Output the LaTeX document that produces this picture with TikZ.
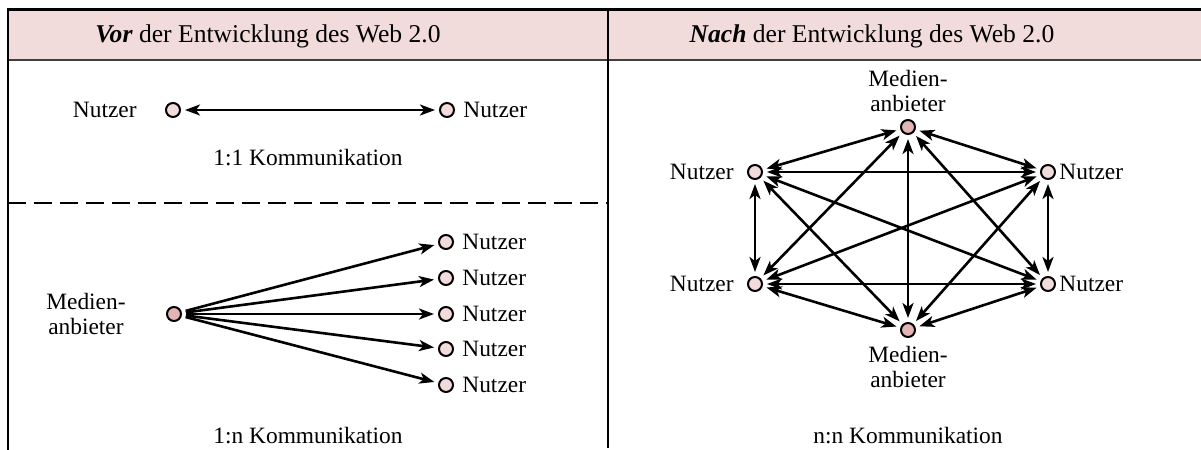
\documentclass[tikz,border=0pt]{standalone}
\usepackage{fontspec}
\setmainfont{Liberation Serif}
\usetikzlibrary{arrows.meta,positioning}

\definecolor{kopfrosa}{HTML}{F2DCDB}
\definecolor{nutzerrosa}{HTML}{F2DCDB}
\definecolor{medienrosa}{HTML}{E3B4B3}

\tikzset{
  nutzer/.style={circle,draw,line width=1pt,fill=nutzerrosa,minimum size=7pt,inner sep=0pt,outer sep=2.5pt},
  medien/.style={nutzer,fill=medienrosa},
  beschr/.style={inner sep=1pt,align=center,font=\fontsize{11.7}{12.5}\selectfont},
  kopf/.style={inner sep=1pt,font=\fontsize{12.8}{14}\selectfont},
  pfeil/.style={line width=1.3pt,{Stealth[length=7.5pt,width=5.5pt,inset=2pt]}-{Stealth[length=7.5pt,width=5.5pt,inset=2pt]}},
  strahl/.style={line width=1.3pt,-{Stealth[length=7.5pt,width=5.5pt,inset=2pt]}}
}

\begin{document}
\begin{tikzpicture}[x=0.5pt,y=-0.5pt]
  \useasboundingbox (0,0) rectangle (1201,450);

  % Tabellenkopf
  \fill[kopfrosa] (8,9) rectangle (1201,60);
  \draw[line width=0.9pt,black!75] (8,60) -- (1201,60);
  \draw[line width=1.5pt] (7,9) -- (1201,9);
  \draw[line width=1pt] (8,9) -- (8,450);
  \draw[line width=1pt] (608,9) -- (608,448);
  \draw[line width=0.9pt,dash pattern=on 9pt off 4pt] (8,203) -- (608,203);
  \node[kopf] (kv) at (268,36) {\textbf{\textit{Vor}} der Entwicklung des Web 2.0};
  \node[kopf] (kn) at (872,36) {\textbf{\textit{Nach}} der Entwicklung des Web 2.0};

  % 1:1
  \node[nutzer] (a1) at (173,110) {};
  \node[nutzer] (a2) at (447,110) {};
  \node[beschr,left=11pt of a1] (la1) {Nutzer};
  \node[beschr,right=1pt of a2] (la2) {Nutzer};
  \draw[pfeil] (a1) -- (a2);
  \node[beschr] (k11) at (308,158) {1:1 Kommunikation};

  % 1:n
  \node[medien] (q) at (174,314) {};
  \node[beschr,left=17pt of q] (lq) {Medien-\\anbieter};
  \foreach \i/\y in {1/242,2/278,3/314,4/349,5/385} {
    \node[nutzer] (z\i) at (446,\y) {};
    \node[beschr,right=1pt of z\i] (lz\i) {Nutzer};
    \draw[strahl] (q) -- (z\i);
  }
  \node[beschr] (k1n) at (308,436) {1:n Kommunikation};

  % n:n
  \node[medien] (mo) at (908,127) {};
  \node[medien] (mu) at (908,330) {};
  \node[nutzer] (nlo) at (755,172) {};
  \node[nutzer] (nro) at (1048,172) {};
  \node[nutzer] (nlu) at (755,284) {};
  \node[nutzer] (nru) at (1048,284) {};
  \node[beschr,above=0.5pt of mo] (lmo) {Medien-\\anbieter};
  \node[beschr,below=1pt of mu] (lmu) {Medien-\\anbieter};
  \node[beschr,left=3.5pt of nlo] (lnlo) {Nutzer};
  \node[beschr,left=3.5pt of nlu] (lnlu) {Nutzer};
  \node[beschr,right=-1.5pt of nro] (lnro) {Nutzer};
  \node[beschr,right=-1.5pt of nru] (lnru) {Nutzer};
  \foreach \a/\b in {mo/nlo,mo/nro,mo/nlu,mo/nru,mo/mu,
                     nlo/nro,nlo/nlu,nlo/nru,nlo/mu,
                     nro/nlu,nro/nru,nro/mu,
                     nlu/nru,nlu/mu,nru/mu}
    \draw[pfeil] (\a) -- (\b);
  \node[beschr] (knn) at (908,436) {n:n Kommunikation};
\end{tikzpicture}
\end{document}
